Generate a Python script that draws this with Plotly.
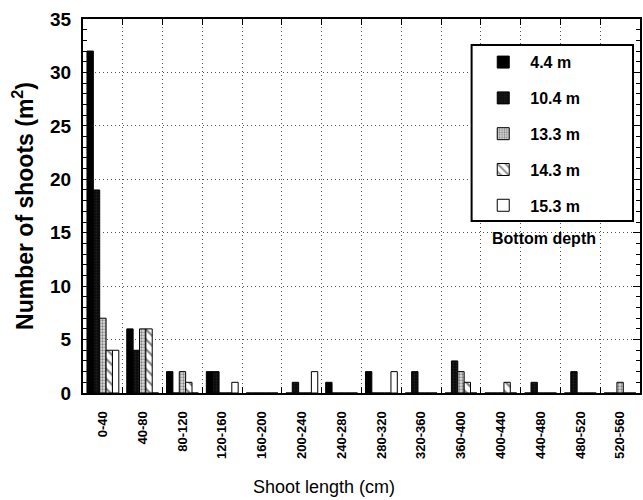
import plotly.graph_objects as go

categories = ["0-40", "40-80", "80-120", "120-160", "160-200", "200-240", "240-280",
              "280-320", "320-360", "360-400", "400-440", "440-480", "480-520", "520-560"]

depth_4_4 = [32, 6, 2, 2, 0, 0, 1, 2, 0, 0, 0, 0, 0, 0]
depth_10_4 = [19, 4, 0, 2, 0, 1, 0, 0, 2, 3, 0, 1, 2, 0]
depth_13_3 = [7, 6, 2, 0, 0, 0, 0, 0, 0, 2, 0, 0, 0, 1]
depth_14_3 = [4, 6, 1, 0, 0, 0, 0, 0, 0, 1, 1, 0, 0, 0]
depth_15_3 = [4, 0, 0, 1, 0, 2, 0, 2, 0, 0, 0, 0, 0, 0]

series_names = ["4.4 m", "10.4 m", "13.3 m", "14.3 m", "15.3 m"]
series_values = [depth_4_4, depth_10_4, depth_13_3, depth_14_3, depth_15_3]

FONT = "Liberation Sans, Arial, sans-serif"

styles = [
    dict(color="#000000", pattern=dict(shape="")),
    dict(color="#111111", pattern=dict(shape=".", fgcolor="#333333", bgcolor="#0a0a0a", size=3, solidity=0.3)),
    dict(color="#999999", pattern=dict(shape=".", fgcolor="#222222", bgcolor="#e0e0e0", size=3, solidity=0.45)),
    dict(color="#ffffff", pattern=dict(shape="\\", fgcolor="#000000", bgcolor="#ffffff", size=7, solidity=0.3)),
    dict(color="#ffffff", pattern=dict(shape="")),
]

fig = go.Figure()
for i, (name, vals) in enumerate(zip(series_names, series_values)):
    st = styles[i]
    fig.add_trace(go.Bar(
        x=categories, y=vals, name=name,
        legendgroup=name,
        marker=dict(color=st["color"], pattern=st["pattern"],
                    line=dict(color="#000000", width=1)),
    ))

# plot area: x 83..642 px, y 19..393 px
fig.update_layout(
    width=643, height=500,
    margin=dict(l=83, r=1, t=19, b=107),
    paper_bgcolor="white", plot_bgcolor="white",
    barmode="group", bargap=0.2, bargroupgap=0,
    font=dict(family=FONT, color="black"),
    showlegend=True,
    legend=dict(
        x=0.706, y=0.93, xanchor="left", yanchor="top",
        bgcolor="rgba(0,0,0,0)", borderwidth=0,
        font=dict(family=FONT, size=16, weight="bold"),
        tracegroupgap=12, itemwidth=44,
    ),
    xaxis=dict(
        type="category", tickson="boundaries",
        ticks="inside", ticklen=6, tickwidth=1, tickcolor="black",
        showline=True, linecolor="black", linewidth=2, mirror="allticks",
        showgrid=True, gridcolor="#555555", griddash="1px,3px", gridwidth=1,
        tickangle=-90, tickfont=dict(family=FONT, size=13, weight="bold"),
        ticklabelstandoff=11,
    ),
    yaxis=dict(
        range=[0, 35], dtick=5, tick0=0,
        ticks="inside", ticklen=7, tickwidth=1, tickcolor="black",
        minor=dict(dtick=1, ticks="inside", ticklen=4, tickcolor="black", showgrid=False),
        showline=True, linecolor="black", linewidth=2, mirror="allticks",
        showgrid=True, gridcolor="#555555", griddash="1px,3px", gridwidth=1,
        zeroline=False,
        tickfont=dict(family=FONT, size=19, weight="bold"),
        ticklabelstandoff=6,
        title=dict(text="Number of shoots (m<sup>2</sup>)",
                   font=dict(family=FONT, size=23, weight="bold"), standoff=10),
    ),
    shapes=[
        dict(type="rect", xref="paper", yref="paper",
             x0=(473 - 83) / 559, x1=(635 - 83) / 559,
             y0=(393 - 221) / 374, y1=(393 - 45) / 374,
             fillcolor="white", line=dict(color="black", width=2), layer="above"),
    ],
    annotations=[
        dict(text="Shoot length (cm)", xref="paper", yref="paper",
             x=0.433, y=-0.251, xanchor="center", yanchor="middle",
             showarrow=False, font=dict(family=FONT, size=18)),
        dict(text="Bottom depth", xref="paper", yref="paper",
             x=0.828, y=0.414, xanchor="center", yanchor="middle",
             showarrow=False, font=dict(family=FONT, size=16, weight="bold")),
    ],
)

fig.write_html("out.html", config={"displayModeBar": False},
               post_script="document.body.style.margin='0';")
